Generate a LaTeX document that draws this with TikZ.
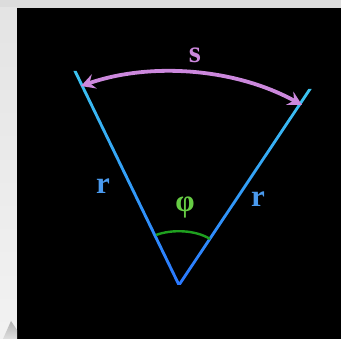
\documentclass[tikz,border=0pt]{standalone}
\usepackage{fontspec}
\setmainfont{Liberation Serif}
\usetikzlibrary{arrows.meta,calc}
\definecolor{bordergray}{HTML}{DCDCDC}
\definecolor{stripgray}{HTML}{E4E4E4}
\definecolor{raycyan}{HTML}{3CC4F0}
\definecolor{rayblue}{HTML}{2A78FF}
\definecolor{arcpurple}{HTML}{CC88DD}
\definecolor{arcgreen}{HTML}{1FA01F}
\definecolor{phigreen}{HTML}{66CC44}
\definecolor{rblue}{HTML}{4A9AEE}
\tikzset{
  lbl/.style={font=\fontsize{31}{31}\selectfont\bfseries, inner sep=0pt},
  arcs/.style={draw=arcpurple, line width=3.8pt, {Stealth[length=14pt,width=15pt,inset=5pt]}-{Stealth[length=14pt,width=15pt,inset=5pt]}},
  anglearc/.style={draw=arcgreen, line width=2.4pt}
}
\begin{document}
\begin{tikzpicture}[x=1pt,y=-1pt]
\useasboundingbox (0,0) rectangle (341,339);
% frame
\fill[bordergray] (0,0) rectangle (341,339);
\shade[top color=stripgray, bottom color=white!95!black] (0,8) rectangle (17,339);
\fill[black] (17,8) rectangle (341,339);
\shade[top color=gray!60, bottom color=gray!25] (3,339) -- (11,321) -- (17,330) -- (17,339) -- cycle;
% geometry
\coordinate (O) at (179,285);
\coordinate (A) at (75,71);
\coordinate (B) at (310,89);
% rays as shaded thin polygons
\shade[top color=raycyan, bottom color=rayblue]
  ($(A)+(-1.6,0)$) -- ($(A)+(1.6,0)$) -- ($(O)+(1.6,0)$) -- ($(O)+(-1.6,0)$) -- cycle;
\shade[top color=raycyan, bottom color=rayblue]
  ($(B)+(-1.7,0)$) -- ($(B)+(1.7,0)$) -- ($(O)+(1.7,0)$) -- ($(O)+(-1.7,0)$) -- cycle;
% arc s
\coordinate (S1) at (81,86);
\coordinate (S2) at (302,105);
\draw[arcs] (S1) .. controls (150,62) and (235,68) .. (S2);
\node[lbl, text=arcpurple] (s) at (195,55) {s};
% angle arc
\coordinate (P1) at (156,235);
\coordinate (P2) at (210,239);
\draw[anglearc] (P1) .. controls (172,229) and (196,230) .. (P2);
\node[inner sep=0pt, text=phigreen, font=\fontsize{31}{31}\selectfont\bfseries] (phi) at (185,207) {φ};
% r labels
\node[lbl, text=rblue] (r1) at (103,186) {r};
\node[lbl, text=rblue] (r2) at (258,199) {r};
\end{tikzpicture}
\end{document}
